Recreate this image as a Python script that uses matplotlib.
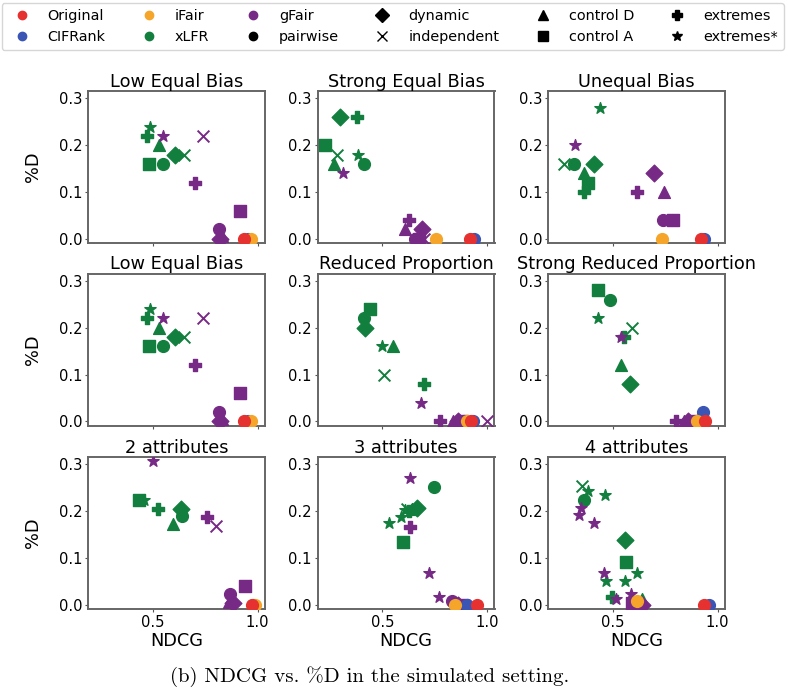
import matplotlib
matplotlib.use('Agg')
import matplotlib.pyplot as plt
from matplotlib.lines import Line2D

# colours per model, markers per xLFR / gFair variant
models = ['Original', 'CIFRank', 'iFair', 'xLFR', 'gFair']
model_colors = ['#e5312f', '#3b55b4', '#f4a52a', '#137f3e', '#772a85']
variants = ['pairwise', 'dynamic', 'independent', 'control D', 'control A', 'extremes', 'extremes*']
variant_markers = ['o', 'D', 'x', '^', 's', 'P', '*']

titles = ['Low Equal Bias', 'Strong Equal Bias', 'Unequal Bias',
          'Low Equal Bias', 'Reduced Proportion', 'Strong Reduced Proportion',
          '2 attributes', '3 attributes', '4 attributes']

# ---- data: tag = "model variant", NDCG, %D ----
low_equal_tags = ['xLFR extremes*', 'xLFR extremes', 'xLFR control D', 'xLFR dynamic',
                  'xLFR independent', 'xLFR control A', 'xLFR pairwise',
                  'gFair extremes*', 'gFair independent', 'gFair extremes', 'gFair control A',
                  'gFair pairwise', 'gFair control D', 'gFair dynamic',
                  'CIFRank', 'iFair', 'Original']
low_equal_ndcg = [0.486, 0.471, 0.530, 0.605, 0.649, 0.483, 0.549,
                  0.549, 0.737, 0.700, 0.916, 0.816, 0.830, 0.822,
                  0.955, 0.967, 0.937]
low_equal_d = [0.24, 0.22, 0.20, 0.18, 0.18, 0.16, 0.16,
               0.22, 0.22, 0.12, 0.06, 0.02, 0.005, 0.0,
               0.0, 0.0, 0.0]

strong_equal_tags = ['xLFR dynamic', 'xLFR extremes', 'xLFR control A', 'xLFR independent',
                     'xLFR extremes*', 'xLFR control D', 'xLFR pairwise',
                     'gFair extremes*', 'gFair extremes', 'gFair control D', 'gFair dynamic',
                     'gFair pairwise', 'gFair control A', 'gFair independent',
                     'CIFRank', 'iFair', 'Original']
strong_equal_ndcg = [0.296, 0.377, 0.224, 0.282, 0.385, 0.269, 0.410,
                     0.314, 0.625, 0.606, 0.691, 0.654, 0.675, 0.700,
                     0.939, 0.755, 0.918]
strong_equal_d = [0.26, 0.26, 0.20, 0.18, 0.18, 0.16, 0.16,
                  0.14, 0.04, 0.02, 0.02, 0.0, 0.0, 0.0,
                  0.0, 0.0, 0.0]

unequal_tags = ['xLFR extremes*', 'xLFR independent', 'xLFR pairwise', 'xLFR dynamic',
                'xLFR control D', 'xLFR control A', 'xLFR extremes',
                'gFair extremes*', 'gFair dynamic', 'gFair extremes', 'gFair control D',
                'gFair pairwise', 'gFair independent', 'gFair control A',
                'CIFRank', 'iFair', 'Original']
unequal_ndcg = [0.440, 0.268, 0.315, 0.410, 0.360, 0.379, 0.360,
                0.320, 0.697, 0.615, 0.742, 0.739, 0.760, 0.787,
                0.933, 0.734, 0.922]
unequal_d = [0.28, 0.16, 0.16, 0.16, 0.14, 0.12, 0.10,
             0.20, 0.14, 0.10, 0.10, 0.04, 0.04, 0.04,
             0.0, 0.0, 0.0]

reduced_tags = ['xLFR control A', 'xLFR pairwise', 'xLFR dynamic', 'xLFR extremes*',
                'xLFR control D', 'xLFR independent', 'xLFR extremes',
                'gFair extremes*', 'gFair extremes', 'gFair control D', 'gFair dynamic',
                'gFair control A', 'gFair pairwise', 'gFair independent',
                'CIFRank', 'iFair', 'Original']
reduced_ndcg = [0.441, 0.413, 0.418, 0.498, 0.550, 0.506, 0.699,
                0.686, 0.774, 0.838, 0.862, 0.878, 0.890, 0.998,
                0.930, 0.902, 0.923]
reduced_d = [0.24, 0.22, 0.20, 0.16, 0.16, 0.10, 0.08,
             0.04, 0.0, 0.0, 0.0, 0.0, 0.0, 0.0,
             0.0, 0.0, 0.0]

strong_reduced_tags = ['xLFR control A', 'xLFR pairwise', 'xLFR extremes*', 'xLFR independent',
                       'xLFR extremes', 'xLFR control D', 'xLFR dynamic',
                       'gFair extremes*', 'gFair extremes', 'gFair control D', 'gFair dynamic',
                       'gFair control A', 'gFair pairwise', 'gFair independent',
                       'CIFRank', 'iFair', 'Original']
strong_reduced_ndcg = [0.427, 0.487, 0.427, 0.591, 0.554, 0.538, 0.580,
                       0.538, 0.800, 0.840, 0.860, 0.880, 0.900, 0.910,
                       0.930, 0.900, 0.941]
strong_reduced_d = [0.28, 0.26, 0.22, 0.20, 0.18, 0.12, 0.08,
                    0.18, 0.0, 0.0, 0.0, 0.0, 0.0, 0.0,
                    0.02, 0.0, 0.0]

attr2_tags = ['xLFR control A', 'xLFR extremes*', 'xLFR extremes', 'xLFR dynamic',
              'xLFR pairwise', 'xLFR control D',
              'gFair extremes*', 'gFair extremes', 'gFair independent', 'gFair control A',
              'gFair pairwise', 'gFair control D', 'gFair dynamic',
              'CIFRank', 'iFair', 'Original']
attr2_ndcg = [0.432, 0.458, 0.524, 0.635, 0.640, 0.598,
              0.500, 0.759, 0.800, 0.940, 0.868, 0.865, 0.884,
              0.980, 0.987, 0.971]
attr2_d = [0.224, 0.224, 0.204, 0.205, 0.190, 0.172,
           0.307, 0.188, 0.168, 0.040, 0.024, 0.006, 0.003,
           0.0, 0.0, 0.0]

attr3_tags = ['xLFR pairwise', 'xLFR dynamic', 'xLFR extremes*', 'xLFR extremes*',
              'xLFR extremes*', 'xLFR independent', 'xLFR extremes', 'xLFR control D',
              'xLFR control A',
              'gFair extremes*', 'gFair extremes', 'gFair extremes*', 'gFair extremes*',
              'gFair pairwise', 'gFair control D', 'gFair dynamic', 'gFair control A',
              'gFair independent',
              'CIFRank', 'iFair', 'Original']
attr3_ndcg = [0.745, 0.666, 0.532, 0.589, 0.610, 0.615, 0.628, 0.640,
              0.600,
              0.632, 0.632, 0.721, 0.771, 0.834, 0.850, 0.860, 0.880,
              0.890,
              0.903, 0.847, 0.952]
attr3_d = [0.251, 0.206, 0.175, 0.187, 0.202, 0.205, 0.200, 0.204,
           0.134,
           0.271, 0.167, 0.067, 0.016, 0.009, 0.002, 0.0, 0.0,
           0.0,
           0.0, 0.0, 0.0]

attr4_tags = ['xLFR independent', 'xLFR extremes*', 'xLFR extremes*', 'xLFR pairwise',
              'xLFR dynamic', 'xLFR control A', 'xLFR extremes*', 'xLFR extremes*',
              'xLFR extremes*', 'xLFR extremes', 'xLFR control D',
              'gFair extremes*', 'gFair extremes*', 'gFair extremes*', 'gFair extremes*',
              'gFair extremes*', 'gFair extremes*', 'gFair control A', 'gFair pairwise',
              'gFair extremes', 'gFair control D', 'gFair dynamic',
              'CIFRank', 'iFair', 'Original']
attr4_ndcg = [0.352, 0.379, 0.460, 0.360, 0.559, 0.562, 0.615, 0.468,
              0.559, 0.495, 0.639,
              0.349, 0.336, 0.408, 0.455, 0.516, 0.586, 0.590, 0.600,
              0.610, 0.620, 0.639,
              0.957, 0.615, 0.936]
attr4_d = [0.253, 0.244, 0.234, 0.225, 0.139, 0.091, 0.067, 0.051,
           0.051, 0.016, 0.012,
           0.206, 0.191, 0.174, 0.067, 0.012, 0.024, 0.003, 0.003,
           0.0, 0.0, 0.0,
           0.0, 0.009, 0.0]

panels = [(low_equal_tags, low_equal_ndcg, low_equal_d),
          (strong_equal_tags, strong_equal_ndcg, strong_equal_d),
          (unequal_tags, unequal_ndcg, unequal_d),
          (low_equal_tags, low_equal_ndcg, low_equal_d),
          (reduced_tags, reduced_ndcg, reduced_d),
          (strong_reduced_tags, strong_reduced_ndcg, strong_reduced_d),
          (attr2_tags, attr2_ndcg, attr2_d),
          (attr3_tags, attr3_ndcg, attr3_d),
          (attr4_tags, attr4_ndcg, attr4_d)]

color_of = dict(zip(models, model_colors))
marker_of = dict(zip(variants, variant_markers))
layer = {'xLFR': 2, 'gFair': 3, 'CIFRank': 4, 'iFair': 5, 'Original': 6}

W, H = 788, 694
fig = plt.figure(figsize=(W / 100, H / 100), dpi=100)

col_left = [88, 317.5, 548]
row_top = [91, 273.5, 457]
ax_w, ax_h = 177, 152

for i, (tags, xs, ys) in enumerate(panels):
    r, c = divmod(i, 3)
    ax = fig.add_axes([col_left[c] / W, 1 - (row_top[r] + ax_h) / H, ax_w / W, ax_h / H])
    for tag, x, y in zip(tags, xs, ys):
        model, _, variant = tag.partition(' ')
        mk = marker_of.get(variant, 'o')
        if mk == 'x':
            ax.scatter(x, y, s=72, marker=mk, color=color_of[model], linewidths=1.4,
                       zorder=layer[model])
        else:
            ax.scatter(x, y, s=72, marker=mk, color=color_of[model], zorder=layer[model])
    ax.set_xlim(0.19, 1.035)
    ax.set_ylim(-0.009, 0.316)
    ax.set_xticks([0.5, 1.0])
    ax.set_yticks([0.0, 0.1, 0.2, 0.3])
    ax.tick_params(labelsize=10.6, length=2, pad=2, color='#555555')
    for sp in ax.spines.values():
        sp.set_color('#666666')
        sp.set_linewidth(1.4)
    ax.set_title(titles[i], fontsize=12.8, pad=3)
    if r < 2:
        ax.set_xticklabels([])
    else:
        ax.set_xlabel('NDCG', fontsize=12.8, labelpad=2)
    if c == 0:
        ax.set_ylabel('%D', fontsize=12.8, labelpad=12)

# legend: colours then marker shapes
handles = []
labels = []
for m in models:
    handles.append(Line2D([], [], ls='', marker='o', color=color_of[m], markersize=6))
    labels.append(m)
handles.append(Line2D([], [], ls='', marker='o', color='black', markersize=6))
labels.append('pairwise')
for v in ['dynamic', 'independent', 'control D', 'control A', 'extremes', 'extremes*']:
    handles.append(Line2D([], [], ls='', marker=marker_of[v], color='black', markersize=7,
                          markeredgewidth=1.0))
    labels.append(v)
fig.legend(handles, labels, ncol=6, loc='upper left',
           bbox_to_anchor=(1.5 / W, 1 - 3 / H), borderaxespad=0,
           fontsize=10.4, columnspacing=2.0)

fig.text(370 / W, 1 - 677 / H, '(b) NDCG vs. %D in the simulated setting.',
         ha='center', va='center', fontfamily='cmr10', fontsize=15)

fig.savefig('out.png', dpi=100)
